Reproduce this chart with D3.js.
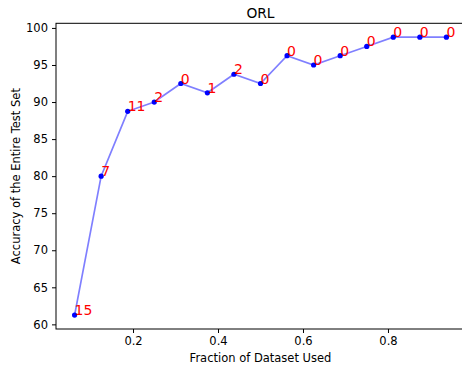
<!DOCTYPE html>
<meta charset="utf-8">
<style>
body { margin: 0; background: #fff; }
text { font-family: "DejaVu Sans", sans-serif; fill: #262626; }
.tick text { font-size: 11.5px; fill: #000; }
.tick line, .domain { stroke: #000; }
.note { fill: red; font-size: 14px; }
</style>
<svg width="462" height="367"></svg>
<script src="https://d3js.org/d3.v7.min.js"></script>
<script>

var fractions = [0.0625, 0.125, 0.1875, 0.25, 0.3125, 0.375, 0.4375, 0.5,
                 0.5625, 0.625, 0.6875, 0.75, 0.8125, 0.875, 0.9375];
var accuracy = [61.25, 80, 88.75, 90, 92.5, 91.25, 93.75, 92.5,
                96.25, 95, 96.25, 97.5, 98.75, 98.75, 98.75];
var counts = [15, 7, 11, 2, 0, 1, 2, 0, 0, 0, 0, 0, 0, 0, 0];
var xTicks = [0.2, 0.4, 0.6, 0.8];
var yTicks = [60, 65, 70, 75, 80, 85, 90, 95, 100];

var svg = d3.select("svg"),
    plotLeft = 56, plotRight = 465, plotTop = 23.3, plotBottom = 329;

// matplotlib style 5% margins
var xPad = (d3.max(fractions) - d3.min(fractions)) * 0.05,
    yPad = (d3.max(accuracy) - d3.min(accuracy)) * 0.05;

var x = d3.scaleLinear()
    .domain([d3.min(fractions) - xPad, d3.max(fractions) + xPad])
    .range([plotLeft, plotRight]);

var y = d3.scaleLinear()
    .domain([d3.min(accuracy) - yPad, d3.max(accuracy) + yPad])
    .range([plotBottom, plotTop]);

var data = fractions.map(function(f, i) {
  return { x: f, y: accuracy[i], n: counts[i] };
});

// frame
svg.append("rect")
    .attr("x", plotLeft).attr("y", plotTop)
    .attr("width", plotRight - plotLeft).attr("height", plotBottom - plotTop)
    .attr("fill", "none").attr("stroke", "#000").attr("stroke-width", 1);

svg.append("g")
    .attr("transform", "translate(0," + plotBottom + ")")
    .call(d3.axisBottom(x).tickValues(xTicks).tickFormat(d3.format(".1f"))
      .tickSize(4).tickPadding(4).tickSizeOuter(0))
    .call(function(g) { g.select(".domain").remove(); });

svg.append("g")
    .attr("transform", "translate(" + plotLeft + ",0)")
    .call(d3.axisLeft(y).tickValues(yTicks).tickSize(4).tickPadding(4).tickSizeOuter(0))
    .call(function(g) { g.select(".domain").remove(); });

svg.selectAll(".tick text").attr("font-family", null).attr("font-size", null);

var line = d3.line()
    .x(function(d) { return x(d.x); })
    .y(function(d) { return y(d.y); });

svg.append("path")
    .datum(data)
    .attr("d", line)
    .attr("fill", "none")
    .attr("stroke", "blue")
    .attr("stroke-opacity", 0.5)
    .attr("stroke-width", 1.7);

svg.selectAll(".dot")
    .data(data)
    .enter().append("circle")
      .attr("class", "dot")
      .attr("cx", function(d) { return x(d.x); })
      .attr("cy", function(d) { return y(d.y); })
      .attr("r", 2.6)
      .attr("fill", "blue");

svg.selectAll(".note")
    .data(data)
    .enter().append("text")
      .attr("class", "note")
      .attr("x", function(d) { return x(d.x); })
      .attr("y", function(d) { return y(d.y); })
      .text(function(d) { return d.n; });

svg.append("text")
    .attr("x", (plotLeft + plotRight) / 2)
    .attr("y", 17.5)
    .attr("text-anchor", "middle")
    .style("font-size", "13.8px")
    .style("fill", "#000")
    .text("ORL");

svg.append("text")
    .attr("x", (plotLeft + plotRight) / 2)
    .attr("y", 362)
    .attr("text-anchor", "middle")
    .style("font-size", "11.5px")
    .style("fill", "#000")
    .text("Fraction of Dataset Used");

svg.append("text")
    .attr("transform", "translate(19.5," + (plotTop + plotBottom) / 2 + ") rotate(-90)")
    .attr("text-anchor", "middle")
    .style("font-size", "11.5px")
    .style("fill", "#000")
    .text("Accuracy of the Entire Test Set");

</script>
